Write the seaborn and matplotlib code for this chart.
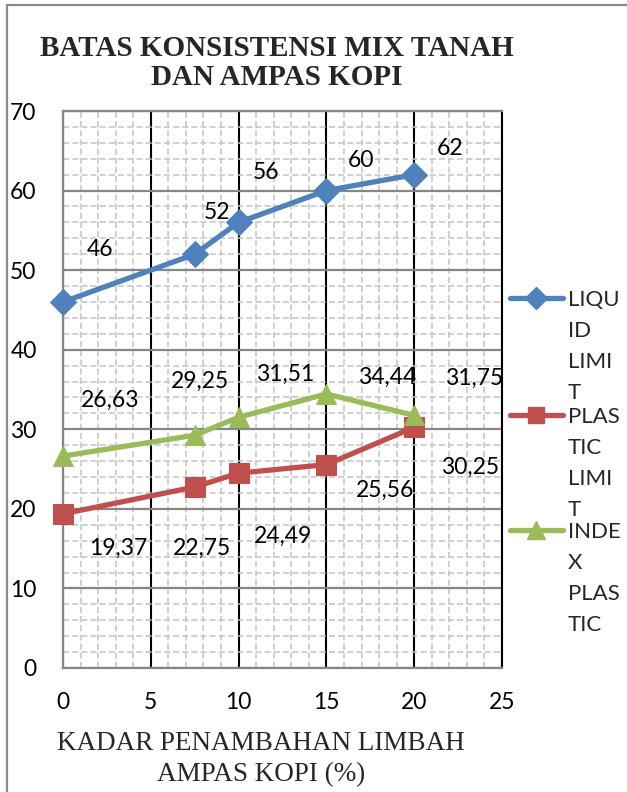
import matplotlib
matplotlib.use("Agg")
import matplotlib.pyplot as plt
from matplotlib.lines import Line2D
from matplotlib.patches import Rectangle
from matplotlib.ticker import MultipleLocator
import seaborn as sns
import pandas as pd

# Data: coffee-grounds content (%) vs Atterberg limits
kadar = [0, 7.5, 10, 15, 20]
liquid_limit = [46, 52, 56, 60, 62]
plastic_limit = [19.37, 22.75, 24.49, 25.56, 30.25]
index_plastic = [26.63, 29.25, 31.51, 34.44, 31.75]
series_names = ["LIQUID LIMIT", "PLASTIC LIMIT", "INDEX PLASTIC"]
legend_texts = ["LIQU\nID\nLIMI\nT", "PLAS\nTIC\nLIMI\nT", "INDE\nX\nPLAS\nTIC"]
x_ticks = [0, 5, 10, 15, 20, 25]
y_ticks = [0, 10, 20, 30, 40, 50, 60, 70]

# Label offsets (pixels) for the data labels of each series
ll_off = [(37, 52), (22, 42), (27, 50), (35, 30), (36, 26)]
pl_off = [(55, -34), (7, -61), (44, -63), (59, -26), (56, -40)]
ip_off = [(47, 56), (5, 54), (47, 43), (61, 17), (60, 37)]

colors = ["#4F81BD", "#C0504D", "#9BBB59"]
markers = ["D", "s", "^"]
msizes = [13, 14, 15]

sns.set_theme(style="white")
plt.rcParams["font.family"] = ["Lato", "DejaVu Sans"]

fig = plt.figure(figsize=(6.27, 7.92), dpi=100)
ax = fig.add_axes([63 / 627, 1 - 668 / 792, (502 - 63) / 627, (668 - 111) / 792])

df = pd.DataFrame({
    "kadar": kadar * 3,
    "nilai": liquid_limit + plastic_limit + index_plastic,
    "seri": [series_names[0]] * 5 + [series_names[1]] * 5 + [series_names[2]] * 5,
})

for name, c, m, ms in zip(series_names, colors, markers, msizes):
    sub = df[df["seri"] == name]
    sns.lineplot(data=sub, x="kadar", y="nilai", ax=ax, color=c, marker=m,
                 markersize=ms, markeredgecolor=c, linewidth=3.8, legend=False,
                 zorder=5, clip_on=False)

ax.set_xlim(0, 25)
ax.set_ylim(0, 70)
ax.set_xticks(x_ticks)
ax.set_yticks(y_ticks)
ax.xaxis.set_minor_locator(MultipleLocator(1))
ax.yaxis.set_minor_locator(MultipleLocator(2))

# Grid: dashed minor, grey horizontal major, black vertical major
ax.grid(which="minor", color="#C4C4C4", linestyle=(0, (4, 2)), linewidth=1.1, zorder=0)
ax.grid(which="major", axis="y", color="#868686", linestyle="-", linewidth=1.6, zorder=1)
ax.grid(which="major", axis="x", color="black", linestyle="-", linewidth=1.5, zorder=1)
ax.set_axisbelow(True)

for s in ["left", "bottom", "top"]:
    ax.spines[s].set_color("#868686")
    ax.spines[s].set_linewidth(1.6)
ax.spines["right"].set_color("black")
ax.spines["right"].set_linewidth(1.5)

ax.tick_params(axis="both", which="major", direction="out", length=6, width=1.4,
               color="#868686", labelsize=16.5, labelcolor="black")
ax.tick_params(axis="both", which="minor", length=0)
ax.tick_params(axis="y", pad=13)
ax.tick_params(axis="x", pad=11)
ax.set_xlabel("")
ax.set_ylabel("")

# Data labels
def fmt(v):
    if float(v).is_integer():
        return str(int(v))
    return f"{v:.2f}".replace(".", ",")

def label_series(vals, offs):
    for xv, yv, (dx, dy) in zip(kadar, vals, offs):
        ax.annotate(fmt(yv), (xv, yv), xytext=(dx, dy), textcoords="offset pixels",
                    ha="center", va="center", fontsize=16.5, color="black",
                    zorder=6, annotation_clip=False)

label_series(liquid_limit, ll_off)
label_series(plastic_limit, pl_off)
label_series(index_plastic, ip_off)

# Title and axis title
fig.text(277 / 627, 1 - 63 / 792, "BATAS KONSISTENSI MIX TANAH\nDAN AMPAS KOPI",
         ha="center", va="center", fontsize=21, fontweight="bold",
         family="Liberation Serif", linespacing=1.05)
fig.text(261 / 627, 1 - 759 / 792, "KADAR PENAMBAHAN LIMBAH\nAMPAS KOPI (%)",
         ha="center", va="center", fontsize=19.5, family="Liberation Serif",
         linespacing=1.3)

# Legend drawn at the right side
leg_y = [298, 415, 530]
for ty, c, m, ms, lt in zip(leg_y, colors, markers, msizes, legend_texts):
    yf = 1 - ty / 792
    fig.add_artist(Line2D([510 / 627, 563 / 627], [yf, yf], color=c, linewidth=3.8,
                          solid_capstyle="round", transform=fig.transFigure))
    fig.add_artist(Line2D([536 / 627], [yf], color=c, marker=m, markersize=ms - 2,
                          markeredgecolor=c, transform=fig.transFigure))
    fig.text(568 / 627, 1 - (ty - 8) / 792, lt, ha="left", va="top", fontsize=16,
             linespacing=1.68)

# Chart frame
fig.add_artist(Rectangle((7 / 627, -0.1), 1.2, 1 - 5 / 792 + 0.1, fill=False,
                         edgecolor="#8A8A8A", linewidth=1.6, transform=fig.transFigure))

fig.savefig("out.png", dpi=100)
